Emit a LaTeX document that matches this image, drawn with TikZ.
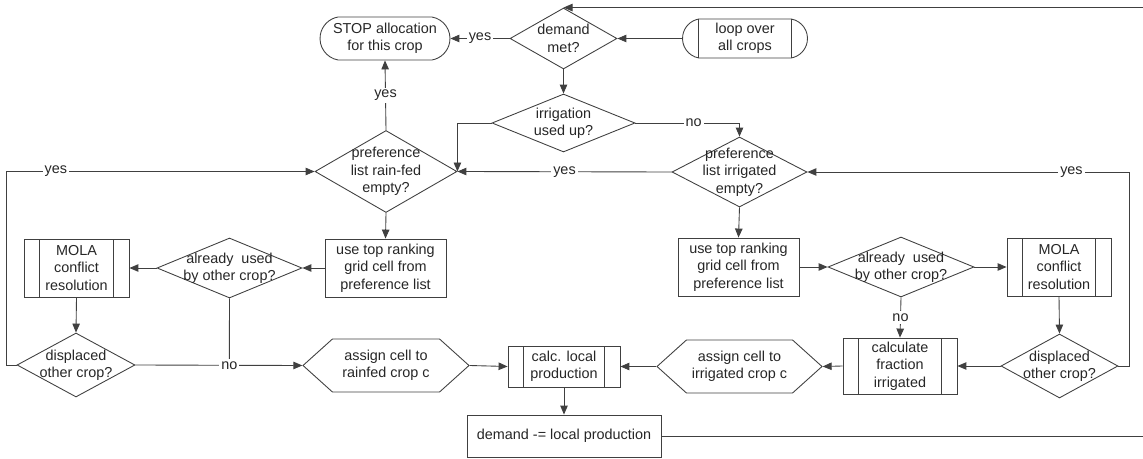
\documentclass[tikz,border=0pt]{standalone}
\usepackage{fontspec}
\setmainfont{Liberation Sans}
\usetikzlibrary{arrows.meta,shapes.geometric,shapes.misc,shapes.symbols}

\begin{document}
\begin{tikzpicture}[x=0.02cm,y=-0.02cm,>={Triangle[length=1.8mm,width=1.5mm]},
  every node/.style={font=\fontsize{8.2}{9.9}\selectfont,text=black!85,align=center},
  line/.style={draw=black!75,line width=0.5pt},
  box/.style={line,rectangle,inner sep=0pt},
  proc/.style={box,path picture={
    \draw[line] ([xshift=0.31cm]path picture bounding box.north west) -- ([xshift=0.31cm]path picture bounding box.south west);
    \draw[line] ([xshift=-0.31cm]path picture bounding box.north east) -- ([xshift=-0.31cm]path picture bounding box.south east);}},
  term/.style={line,rounded rectangle,rounded rectangle arc length=160,inner sep=0pt},
  dec/.style={line,diamond,inner sep=0pt},
  io/.style={line,signal,signal to=west and east,signal pointer angle=84,inner sep=0pt},
  lab/.style={fill=white,inner sep=1.2pt}]
  \useasboundingbox (0,0) rectangle (1143,459);
  % top row
  \node[term,minimum width=2.6cm,minimum height=0.86cm] (stop) at (385,38.5) {STOP allocation\\for this crop};
  \node[dec,minimum width=2.14cm,minimum height=1.22cm,label={center:{demand\\met?}}] (dmet) at (563.5,38.5) {};
  \node[term,minimum width=2.5cm,minimum height=0.78cm] (loop) at (745,38.5) {loop over\\all crops};
  \draw[line] ([xshift=-0.93cm]loop.north) -- ([xshift=-0.93cm]loop.south);
  \draw[line] ([xshift=0.93cm]loop.north) -- ([xshift=0.93cm]loop.south);
  \node[dec,minimum width=2.86cm,minimum height=1.16cm,label={center:{irrigation\\used up?}}] (irr) at (563.5,123) {};
  % preference lists
  \node[dec,minimum width=2.84cm,minimum height=1.64cm,label={center:{preference\\list rain-fed\\empty?}}] (prf) at (386,171.5) {};
  \node[dec,minimum width=2.7cm,minimum height=1.4cm,label={center:{preference\\list irrigated\\empty?}}] (pri) at (739.5,172) {};
  % rain-fed branch
  \node[box,minimum width=2.42cm,minimum height=1.16cm] (top1) at (385.5,268) {use top ranking\\grid cell from\\preference list};
  \node[dec,minimum width=2.9cm,minimum height=1.2cm,label={center:{already\ \ used\\by other crop?}}] (use1) at (229.5,268) {};
  \node[proc,minimum width=2.1cm,minimum height=1.16cm] (mola1) at (76.5,268) {MOLA\\conflict\\resolution};
  \node[dec,minimum width=2.36cm,minimum height=1.28cm,label={center:{displaced\\other crop?}}] (disp1) at (76,365) {};
  \node[io,minimum width=3.32cm,minimum height=1.06cm] (asg1) at (386,365.5) {assign cell to\\rainfed crop c};
  % irrigated branch
  \node[box,minimum width=2.42cm,minimum height=1.16cm] (top2) at (738.5,267) {use top ranking\\grid cell from\\preference list};
  \node[dec,minimum width=2.92cm,minimum height=1.2cm,label={center:{already\ \ used\\by other crop?}}] (use2) at (901,267) {};
  \node[proc,minimum width=2.08cm,minimum height=1.16cm] (mola2) at (1059,267) {MOLA\\conflict\\resolution};
  \node[dec,minimum width=2.34cm,minimum height=1.28cm,label={center:{displaced\\other crop?}}] (disp2) at (1059.5,366) {};
  \node[proc,minimum width=2.28cm,minimum height=1.12cm] (frac) at (900,366) {calculate\\fraction\\irrigated};
  \node[io,minimum width=3.3cm,minimum height=1.06cm] (asg2) at (739.5,366.5) {assign cell to\\irrigated crop c};
  % production
  \node[proc,minimum width=2.24cm,minimum height=0.82cm] (calc) at (564,366.5) {calc. local\\production};
  \node[box,minimum width=3.88cm,minimum height=0.84cm] (dem) at (564,436) {demand -= local production};

  % connectors
  \draw[line,->] (loop.west) -- (dmet.east);
  \draw[line,->] (dmet.west) -- node[lab]{yes} (stop.east);
  \draw[line,->] (dmet.south) -- (irr.north);
  \draw[line,->] (irr.west) -| (prf.east);
  \draw[line,->] (irr.east) -| node[lab,pos=0.28]{no} (pri.north);
  \draw[line,->] (pri.west) -- node[lab]{yes} (prf.east);
  \draw[line,->] (prf.north) -- node[lab]{yes} (stop.south);
  \draw[line,->] (prf.south) -- (top1.north);
  \draw[line,->] (top1.west) -- (use1.east);
  \draw[line,->] (use1.west) -- (mola1.east);
  \draw[line,->] (mola1.south) -- (disp1.north);
  \draw[line,->] (disp1.west) -- ++(-10,0) |- node[lab,pos=0.58]{yes} (prf.west);
  \draw[line,->] (disp1.east) -- node[lab,pos=0.5625] (no1) {no} (asg1.west);
  \draw[line] (use1.south) -- (no1.north);
  \draw[line,->] (asg1.east) -- (calc.west);
  \draw[line,->] (pri.south) -- (top2.north);
  \draw[line,->] (top2.east) -- (use2.west);
  \draw[line,->] (use2.east) -- (mola2.west);
  \draw[line,->] (mola2.south) -- (disp2.north);
  \draw[line,->] (use2.south) -- node[lab]{no} (frac.north);
  \draw[line,->] (disp2.west) -- (frac.east);
  \draw[line,->] (disp2.east) -- ++(11,0) |- node[lab,pos=0.59]{yes} (pri.east);
  \draw[line,->] (frac.west) -- (asg2.east);
  \draw[line,->] (asg2.west) -- (calc.east);
  \draw[line,->] (calc.south) -- (dem.north);
  \draw[line,->] (dem.east) -- ++(487,0) |- (dmet.north);
\end{tikzpicture}
\end{document}
